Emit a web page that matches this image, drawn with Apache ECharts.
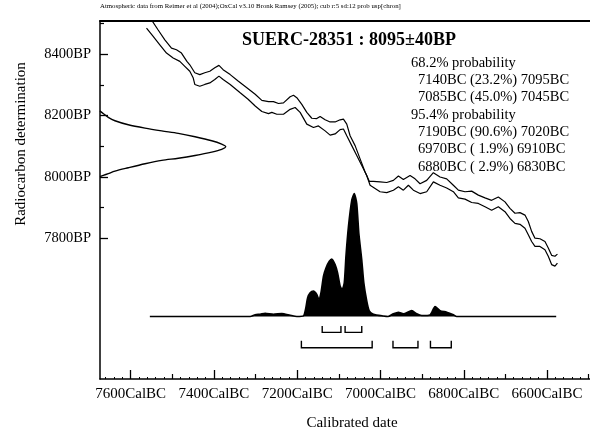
<!DOCTYPE html>
<html>
<head>
<meta charset="utf-8">
<script src="https://cdn.jsdelivr.net/npm/echarts@6/dist/echarts.min.js"></script>
<style>
html, body { margin: 0; padding: 0; background: #fff; }
#chart { width: 590px; height: 436px; }
</style>
</head>
<body>
<div id="chart"></div>
<script>
// calibration curve, upper and lower edge  [cal BC, BP]
var curveUpper = [[7550,8511],[7534,8478],[7518,8446],[7502,8419],[7490,8414],[7478,8403],[7465,8376],[7458,8365],[7446,8339],[7434,8333],[7422,8339],[7410,8344],[7398,8355],[7388,8363],[7378,8349],[7361,8333],[7342,8312],[7321,8290],[7301,8269],[7285,8249],[7269,8245],[7257,8245],[7245,8239],[7233,8241],[7217,8261],[7209,8266],[7201,8258],[7189,8236],[7177,8210],[7165,8191],[7153,8190],[7145,8197],[7133,8186],[7121,8179],[7109,8179],[7097,8186],[7089,8188],[7081,8172],[7073,8134],[7061,8102],[7049,8059],[7037,8016],[7027,7986],[7017,7986],[7001,7984],[6985,7982],[6969,7989],[6957,8003],[6945,7992],[6929,8005],[6917,7994],[6905,7978],[6889,7989],[6873,8014],[6857,8000],[6841,7994],[6825,7973],[6813,7957],[6797,7952],[6781,7954],[6765,7941],[6749,7932],[6733,7924],[6717,7935],[6701,7919],[6689,7898],[6677,7882],[6665,7884],[6653,7876],[6645,7855],[6637,7823],[6629,7801],[6617,7799],[6605,7790],[6597,7769],[6589,7745],[6581,7742],[6575,7749]];
var curveLower = [[7562,8484],[7546,8457],[7530,8430],[7514,8403],[7498,8387],[7482,8376],[7470,8360],[7458,8344],[7450,8323],[7446,8301],[7434,8295],[7422,8301],[7410,8306],[7398,8317],[7388,8328],[7378,8317],[7361,8301],[7337,8274],[7318,8253],[7301,8231],[7285,8213],[7269,8206],[7261,8210],[7249,8204],[7233,8204],[7217,8220],[7205,8226],[7193,8210],[7177,8172],[7161,8161],[7149,8166],[7133,8150],[7121,8136],[7109,8140],[7097,8154],[7089,8156],[7081,8134],[7069,8102],[7057,8070],[7045,8037],[7033,8005],[7025,7973],[7001,7952],[6985,7949],[6969,7957],[6957,7968],[6945,7957],[6933,7973],[6921,7957],[6905,7946],[6889,7952],[6873,7984],[6857,7973],[6841,7964],[6825,7952],[6813,7932],[6797,7928],[6781,7917],[6765,7914],[6749,7903],[6733,7892],[6717,7903],[6701,7887],[6689,7865],[6677,7849],[6665,7846],[6653,7833],[6645,7812],[6637,7790],[6629,7774],[6617,7774],[6605,7763],[6597,7742],[6589,7715],[6581,7710],[6575,7720]];

// radiocarbon measurement 8095+-40BP  [relative prob, BP]
var measured = [[0,8215],[0.014,8210],[0.066,8194],[0.119,8183],[0.225,8170],[0.358,8159],[0.491,8150],[0.623,8142],[0.756,8131],[0.889,8118],[0.968,8107],[1,8099],[0.968,8090],[0.889,8081],[0.756,8070],[0.623,8061],[0.491,8054],[0.358,8043],[0.225,8030],[0.119,8019],[0.066,8011],[0.026,8005],[0,8001]];

// calibrated date distribution  [cal BC, relative prob]
var calibrated = [[7554,0],[7313,0],[7301,0.015],[7289,0.019],[7277,0.027],[7257,0.019],[7237,0.024],[7217,0.01],[7201,0],[7185,0.005],[7180,0.059],[7175,0.153],[7169,0.194],[7161,0.207],[7153,0.18],[7148,0.14],[7143,0.194],[7137,0.328],[7131,0.395],[7123,0.449],[7117,0.468],[7109,0.422],[7103,0.355],[7097,0.248],[7092,0.22],[7087,0.274],[7083,0.49],[7077,0.731],[7069,0.946],[7063,1],[7057,0.919],[7052,0.677],[7045,0.462],[7040,0.274],[7033,0.127],[7027,0.046],[7017,0.019],[6993,0.004],[6982,0],[6969,0.022],[6957,0.035],[6945,0.022],[6925,0.048],[6913,0.022],[6901,0.008],[6881,0.013],[6869,0.081],[6857,0.048],[6841,0.035],[6825,0.014],[6817,0],[6578,0]];

var ranges68 = [[7140,7095],[7085,7045]];
var ranges95 = [[7190,7020],[6970,6910],[6880,6830]];

var xMajor = [7600,7400,7200,7000,6800,6600];
var xMinor = [7500,7300,7100,6900,6700,6500];
var yMajor = [8400,8200,8000,7800];
var yMinor = [8500,8300,8100,7900];

var headerText = 'Atmospheric data from Reimer et al (2004);OxCal v3.10 Bronk Ramsey (2005); cub r:5 sd:12 prob usp[chron]';
var sampleText = 'SUERC-28351 : 8095\u00b140BP';
var probText = ['68.2% probability','7140BC (23.2%) 7095BC','7085BC (45.0%) 7045BC','95.4% probability','7190BC (90.6%) 7020BC','6970BC ( 1.9%) 6910BC','6880BC ( 2.9%) 6830BC'];
var probIndent = [0,1,1,0,1,1,1];

var FONT = '"Liberation Serif", "Times New Roman", serif';

var xTiny = [];
for (var t = 7660; t >= 6500; t -= 20) xTiny.push(t);

var X_MIN = 6496.8, X_MAX = 7673.7;
var Y_MIN = 7342.8, Y_MAX = 8507.4;

function xAx(extra) {
	var a = {type: 'value', min: X_MIN, max: X_MAX, inverse: true, position: 'bottom',
		splitLine: {show: false}, axisLine: {show: false, onZero: false},
		axisTick: {show: false}, axisLabel: {show: false}};
	for (var k in extra) a[k] = extra[k];
	return a;
}
function yAx(extra) {
	var a = {type: 'value', min: Y_MIN, max: Y_MAX, position: 'left',
		splitLine: {show: false}, axisLine: {show: false, onZero: false},
		axisTick: {show: false}, axisLabel: {show: false}};
	for (var k in extra) a[k] = extra[k];
	return a;
}

function bracket(ranges, barLevel, tickLevel) {
	return {
		type: 'custom', xAxisIndex: 0, yAxisIndex: 2, silent: true,
		data: ranges,
		renderItem: function (params, api) {
			var a = api.coord([api.value(0), tickLevel]);
			var b = api.coord([api.value(0), barLevel]);
			var c = api.coord([api.value(1), barLevel]);
			var d = api.coord([api.value(1), tickLevel]);
			return {type: 'polyline', shape: {points: [a, b, c, d]},
				style: {fill: null, stroke: '#000', lineWidth: 1.4}};
		}
	};
}

var graphics = [
	{type: 'text', x: 100, y: 6, style: {text: headerText, font: '6.8px ' + FONT, fill: '#000', verticalAlign: 'middle'}},
	{type: 'text', x: 349, y: 40, style: {text: sampleText, font: 'bold 18px ' + FONT, fill: '#000', align: 'center', verticalAlign: 'middle'}},
	{type: 'text', x: 21, y: 144, rotation: Math.PI / 2, style: {text: 'Radiocarbon determination', font: '15px ' + FONT, fill: '#000', align: 'center', verticalAlign: 'middle'}}
];
for (var i = 0; i < probText.length; i++) {
	graphics.push({type: 'text', x: probIndent[i] ? 418 : 411, y: 63 + i * 17.3,
		style: {text: probText[i], font: '14.5px ' + FONT, fill: '#000', verticalAlign: 'middle'}});
}

var myChart = echarts.init(document.getElementById('chart'), null, {renderer: 'canvas'});
myChart.setOption({
	animation: false,
	backgroundColor: '#fff',
	grid: {left: 100, right: 0, top: 21, bottom: 54},
	xAxis: [
		xAx({
			axisLine: {show: true, onZero: false, lineStyle: {color: '#000', width: 1.5}},
			axisTick: {show: true, inside: true, length: 9, customValues: xMajor, lineStyle: {color: '#000', width: 1.3}},
			axisLabel: {show: true, customValues: xMajor, margin: 8, color: '#000', fontSize: 15, fontFamily: FONT,
				formatter: function (v) { return v + 'CalBC'; }},
			name: 'Calibrated date', nameLocation: 'middle', nameGap: 37,
			nameTextStyle: {color: '#000', fontSize: 15, fontFamily: FONT, padding: [0, 0, 0, 14]}
		}),
		xAx({axisTick: {show: true, inside: true, length: 5, customValues: xMinor, lineStyle: {color: '#000', width: 1.2}}}),
		xAx({axisTick: {show: true, inside: true, length: 2, customValues: xTiny, lineStyle: {color: '#000', width: 1}}}),
		// scale for the measured date curve, also draws the top frame line
		{type: 'value', min: 0, max: 3.898, position: 'top', splitLine: {show: false},
			axisLine: {show: true, onZero: false, lineStyle: {color: '#000', width: 2}},
			axisTick: {show: false}, axisLabel: {show: false}}
	],
	yAxis: [
		yAx({
			axisLine: {show: true, onZero: false, lineStyle: {color: '#000', width: 1.5}},
			axisTick: {show: true, inside: true, length: 8, customValues: yMajor, lineStyle: {color: '#000', width: 1.3}},
			axisLabel: {show: true, customValues: yMajor, margin: 9, color: '#000', fontSize: 14.5, fontFamily: FONT,
				formatter: function (v) { return v + 'BP'; }}
		}),
		yAx({axisTick: {show: true, inside: true, length: 4, customValues: yMinor, lineStyle: {color: '#000', width: 1.2}}}),
		// scale for the calibrated distribution
		{type: 'value', min: -0.508, max: 2.403, show: false, splitLine: {show: false}}
	],
	graphic: graphics,
	series: [
		{type: 'line', xAxisIndex: 0, yAxisIndex: 0, data: curveUpper, showSymbol: false, silent: true,
			lineStyle: {color: '#000', width: 1.2}},
		{type: 'line', xAxisIndex: 0, yAxisIndex: 0, data: curveLower, showSymbol: false, silent: true,
			lineStyle: {color: '#000', width: 1.2}},
		{type: 'line', xAxisIndex: 3, yAxisIndex: 0, data: measured, showSymbol: false, silent: true, smooth: 0.3,
			lineStyle: {color: '#000', width: 1.4}},
		{type: 'line', xAxisIndex: 0, yAxisIndex: 2, data: calibrated, showSymbol: false, silent: true, smooth: 0.2,
			lineStyle: {color: '#000', width: 1.6}, areaStyle: {color: '#000', opacity: 1}},
		bracket(ranges68, -0.129, -0.077),
		bracket(ranges95, -0.254, -0.196)
	]
});
</script>
</body>
</html>
